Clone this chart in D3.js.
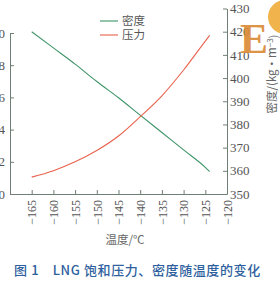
<!DOCTYPE html>
<meta charset="utf-8">
<style>
body { margin: 0; background: #fff; }
svg text { font-family: "Liberation Serif", "DejaVu Serif", serif; }
.cjk { font-family: "Noto Sans CJK SC", sans-serif; }
</style>
<svg width="280" height="282"></svg>
<script src="https://cdn.jsdelivr.net/npm/d3@7"></script>
<script>

// temperature (°C)
var temps    = [-165, -160, -155, -150, -145, -140, -135, -130, -125, -124];
// saturation pressure (MPa), left axis
var pressure = [0.105, 0.145, 0.2, 0.27, 0.36, 0.48, 0.61, 0.77, 0.95, 0.985];
// density (kg/m3), right axis
var density  = [420, 413, 406, 398.5, 391.5, 384, 376.5, 369, 361.5, 359.7];

var xTicks = [-165, -160, -155, -150, -145, -140, -135, -130, -125, -120];
var leftTicks = [0, 0.2, 0.4, 0.6, 0.8, 1.0];
var rightTicks = [350, 360, 370, 380, 390, 400, 410, 420, 430];

var svg = d3.select("svg");
var axisColor = "#6f7f76";

var x = d3.scaleLinear().domain([-170, -120]).range([10, 227]);
var yL = d3.scaleLinear().domain([0, 1.0]).range([194, 33]);
var yR = d3.scaleLinear().domain([350, 430]).range([194, 8.5]);

function styleAxis(g) {
  g.select(".domain").attr("stroke", axisColor);
  g.selectAll(".tick line").attr("stroke", axisColor);
  g.selectAll(".tick text").attr("fill", "#555").style("font-size", "13px");
}

// bottom axis, ticks pointing in
var gx = svg.append("g").attr("transform", "translate(0,194)")
  .call(d3.axisBottom(x).tickValues(xTicks).tickSizeInner(-4).tickSizeOuter(0)
    .tickFormat(function(d) { return "\u2212" + Math.abs(d); }));
styleAxis(gx);
gx.selectAll(".tick text")
  .style("font-size", "12px")
  .attr("text-anchor", "end")
  .attr("transform", "rotate(-90)")
  .attr("x", -6).attr("y", 0).attr("dy", "0.35em");

var gl = svg.append("g").attr("transform", "translate(10,0)")
  .call(d3.axisLeft(yL).tickValues(leftTicks).tickSizeInner(-4).tickSizeOuter(0)
    .tickFormat(d3.format(".1f")));
styleAxis(gl);
gl.selectAll(".tick text").attr("x", -5);

var gr = svg.append("g").attr("transform", "translate(227,0)")
  .call(d3.axisRight(yR).tickValues(rightTicks).tickSizeInner(-4).tickSizeOuter(0));
styleAxis(gr);
gr.selectAll(".tick text").attr("x", 3);

// curves
var pts = temps.map(function(t, i) { return { t: t, p: pressure[i], d: density[i] }; });

svg.append("path").datum(pts)
  .attr("fill", "none").attr("stroke", "#3f9469").attr("stroke-width", 1.1)
  .attr("d", d3.line().curve(d3.curveMonotoneX)
    .x(function(d) { return x(d.t); }).y(function(d) { return yR(d.d); }));

svg.append("path").datum(pts)
  .attr("fill", "none").attr("stroke", "#e9624c").attr("stroke-width", 1.1)
  .attr("d", d3.line().curve(d3.curveMonotoneX)
    .x(function(d) { return x(d.t); }).y(function(d) { return yL(d.p); }));

// legend
var legend = [["密度", "#3f9469"], ["压力", "#e9624c"]];
legend.forEach(function(l, i) {
  var yy = 21 + i * 14;
  svg.append("line").attr("x1", 100).attr("x2", 118).attr("y1", yy).attr("y2", yy)
    .attr("stroke", l[1]).attr("stroke-width", 1.1);
  svg.append("text").attr("class", "cjk").attr("x", 122).attr("y", yy).attr("dy", "0.36em")
    .attr("fill", "#555").style("font-size", "11.5px").text(l[0]);
});

// watermark
svg.append("circle").attr("cx", 285).attr("cy", 17).attr("r", 17)
  .attr("fill", "#f0ac3a").attr("opacity", 0.9);
svg.append("text").attr("x", 240).attr("y", 53)
  .attr("fill", "#dc8b38").attr("opacity", 0.92)
  .style("font-size", "42px").style("font-weight", "bold")
  .style("font-family", "Liberation Serif, serif")
  .text("E");

// axis titles
svg.append("text").attr("class", "cjk").attr("x", 125).attr("y", 240).attr("dy", "0.36em")
  .attr("text-anchor", "middle").attr("fill", "#666").style("font-size", "11.5px")
  .text("温度/℃");

var rt = svg.append("text").attr("class", "cjk")
  .attr("transform", "translate(272,74) rotate(-90)")
  .attr("text-anchor", "middle").attr("dy", "0.36em")
  .attr("fill", "#666").style("font-size", "11.5px");
rt.append("tspan").text("密度/(kg·m");
rt.append("tspan").attr("dy", "-0.4em").style("font-size", "8px").text("−3");
rt.append("tspan").attr("dy", "0.4em").text(")");

// caption
svg.append("text").attr("class", "cjk").attr("x", 14).attr("y", 270).attr("dy", "0.36em")
  .attr("fill", "#2f5f9e").style("font-size", "13px").style("font-weight", "500")
  .style("letter-spacing", "0.6px")
  .text("图 1　LNG 饱和压力、密度随温度的变化");

</script>
